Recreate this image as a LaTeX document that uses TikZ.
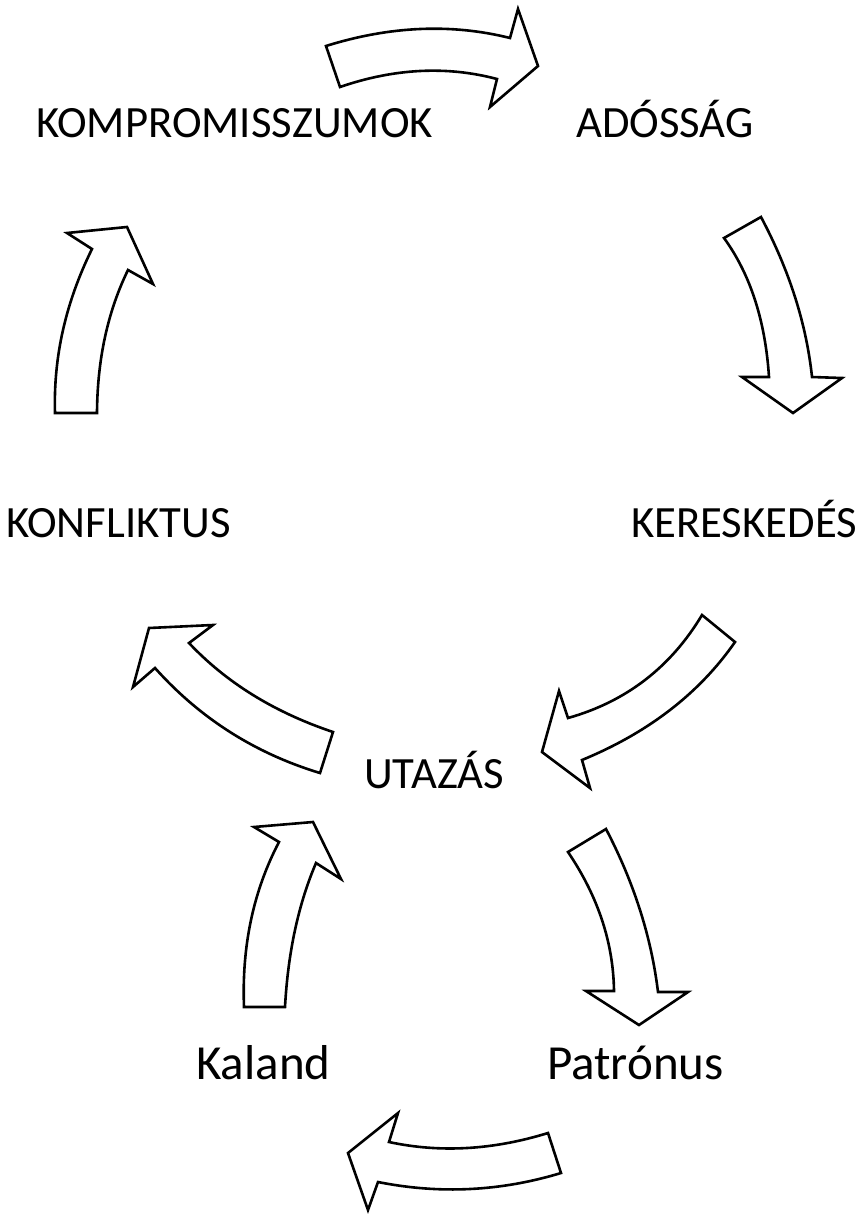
\documentclass[tikz,border=0pt]{standalone}
\usepackage{fontspec}
\setmainfont{Carlito}
\usetikzlibrary{calc}
\begin{document}
\begin{tikzpicture}[x=1pt,y=-1pt,
  blockarrow/.style={draw=black, line width=2.6pt, fill=white, line join=miter, miter limit=10},
  caplabel/.style={font=\fontsize{44.7}{50}\selectfont, inner sep=0pt, anchor=base west},
  biglabel/.style={font=\fontsize{49}{55}\selectfont, inner sep=0pt, anchor=base west}]
\useasboundingbox (0,0) rectangle (864,1223);
% labels
\node[caplabel] (komp) at (36,137) {KOMPROMISSZUMOK};
\node[caplabel] (ados) at (576,137) {ADÓSSÁG};
\node[caplabel] (keres) at (631,537) {KERESKEDÉS};
\node[caplabel] (konf) at (6,537) {KONFLIKTUS};
\node[caplabel] (utaz) at (364,788) {UTAZÁS};
\node[biglabel] (kal) at (196,1079) {Kaland};
\node[biglabel] (pat) at (547,1079) {Patrónus};
% arrow 1: KOMPROMISSZUMOK -> ADOSSAG
\draw[blockarrow] (326,46) .. controls ($(326,46)!2/3!(422,16)$) and ($(510,38)!2/3!(422,16)$) .. (510,38)
  -- (518,9) -- (538,66) -- (490,107) -- (497,79)
  .. controls ($(497,79)!2/3!(421.5,59)$) and ($(340,87)!2/3!(421.5,59)$) .. (340,87) -- cycle;
% arrow 2: ADOSSAG -> KERESKEDES
\draw[blockarrow] (761,217) .. controls ($(761,217)!2/3!(803.5,297)$) and ($(812,377)!2/3!(803.5,297)$) .. (812,377)
  -- (842,378) -- (793,413) -- (742,377) -- (769,377)
  .. controls ($(769,377)!2/3!(763.5,292.5)$) and ($(724,238)!2/3!(763.5,292.5)$) .. (724,238) -- cycle;
% arrow 3: KONFLIKTUS -> KOMPROMISSZUMOK
\draw[blockarrow] (97,413) .. controls ($(97,413)!2/3!(97.5,332.5)$) and ($(128,270)!2/3!(97.5,332.5)$) .. (128,270)
  -- (153,284) -- (127,227) -- (67,233) -- (92,249)
  .. controls ($(92,249)!2/3!(52.5,329)$) and ($(55,413)!2/3!(52.5,329)$) .. (55,413) -- cycle;
% arrow 4: KERESKEDES -> UTAZAS
\draw[blockarrow] (735,642) .. controls ($(735,642)!2/3!(681.5,719)$) and ($(582,760)!2/3!(681.5,719)$) .. (582,760)
  -- (590,788) -- (542,752) -- (559,691) -- (568,718)
  .. controls ($(568,718)!2/3!(655,693.5)$) and ($(702,615)!2/3!(655,693.5)$) .. (702,615) -- cycle;
% arrow 5: UTAZAS -> KONFLIKTUS
\draw[blockarrow] (320,773) .. controls ($(320,773)!2/3!(222.5,743.5)$) and ($(155,668)!2/3!(222.5,743.5)$) .. (155,668)
  -- (133,687) -- (149,628) -- (213,625) -- (189,643)
  .. controls ($(189,643)!2/3!(245,702.5)$) and ($(333,732)!2/3!(245,702.5)$) .. (333,732) -- cycle;
% arrow 6: Kaland -> UTAZAS
\draw[blockarrow] (285,1007) .. controls ($(285,1007)!2/3!(289.5,925)$) and ($(316,863)!2/3!(289.5,925)$) .. (316,863)
  -- (341,879) -- (313,822) -- (254,827) -- (279,842)
  .. controls ($(279,842)!2/3!(240.5,915.5)$) and ($(244,1007)!2/3!(240.5,915.5)$) .. (244,1007) -- cycle;
% arrow 7: UTAZAS -> Patronus
\draw[blockarrow] (606,829) .. controls ($(606,829)!2/3!(648,909.5)$) and ($(658,992)!2/3!(648,909.5)$) .. (658,992)
  -- (688,992) -- (639,1025) -- (586,991) -- (614,991)
  .. controls ($(614,991)!2/3!(613,918.5)$) and ($(568,852)!2/3!(613,918.5)$) .. (568,852) -- cycle;
% arrow 8: Patronus -> Kaland
\draw[blockarrow] (561,1173) .. controls ($(561,1173)!2/3!(470.5,1200.5)$) and ($(378,1182)!2/3!(470.5,1200.5)$) .. (378,1182)
  -- (368,1210) -- (348,1153) -- (398,1113) -- (389,1142)
  .. controls ($(389,1142)!2/3!(465.5,1158.5)$) and ($(548,1133)!2/3!(465.5,1158.5)$) .. (548,1133) -- cycle;
\end{tikzpicture}
\end{document}
